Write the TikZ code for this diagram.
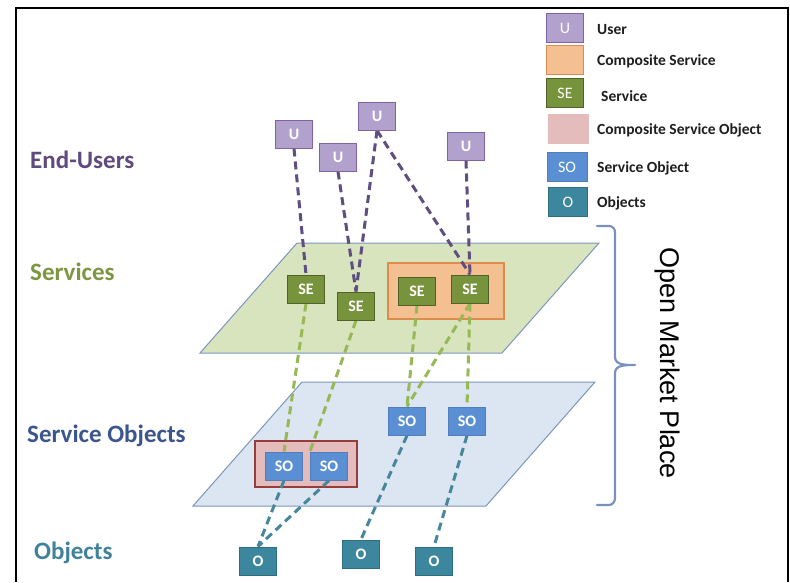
\documentclass[tikz,border=0pt]{standalone}
\usepackage{fontspec}
\setmainfont{Carlito}
\newfontfamily\arialf{Liberation Sans}
\pgfdeclarelayer{bg}
\pgfdeclarelayer{mid}
\pgfsetlayers{bg,mid,main}
\definecolor{ufill}{RGB}{178,161,204}
\definecolor{udraw}{RGB}{128,100,162}
\definecolor{sefill}{RGB}{119,147,60}
\definecolor{sedraw}{RGB}{79,98,40}
\definecolor{csfill}{RGB}{244,192,146}
\definecolor{csdraw}{RGB}{222,140,75}
\definecolor{csofill}{RGB}{229,188,188}
\definecolor{csodraw}{RGB}{150,60,60}
\definecolor{sofill}{RGB}{90,143,212}
\definecolor{sodraw}{RGB}{80,125,190}
\definecolor{ofill}{RGB}{60,135,158}
\definecolor{odraw}{RGB}{45,110,130}
\definecolor{greenplane}{RGB}{216,228,190}
\definecolor{blueplane}{RGB}{220,230,242}
\definecolor{planeedge}{RGB}{125,150,190}
\definecolor{udash}{RGB}{95,78,128}
\definecolor{sedash}{RGB}{150,185,85}
\definecolor{sodash}{RGB}{70,135,155}
\definecolor{lblu}{RGB}{95,75,125}
\definecolor{lblse}{RGB}{125,150,65}
\definecolor{lblso}{RGB}{60,85,140}
\definecolor{lblo}{RGB}{65,130,155}
\definecolor{bracec}{RGB}{120,145,190}
\definecolor{legtext}{RGB}{30,30,30}
\tikzset{
  box/.style={minimum width=37pt, minimum height=28pt, inner sep=0pt, line width=1pt,
    text=white, font=\bfseries\fontsize{16}{16}\selectfont},
  ubox/.style={box, fill=ufill, draw=udraw},
  sebox/.style={box, fill=sefill, draw=sedraw},
  sobox/.style={box, fill=sofill, draw=sodraw},
  obox/.style={box, fill=ofill, draw=odraw},
  legbox/.style={minimum width=37pt, minimum height=29pt, inner sep=0pt, line width=1pt,
    text=white, font=\fontsize{16}{16}\selectfont},
  legtxt/.style={anchor=west, inner sep=0pt, text=legtext, font=\bfseries\fontsize{15.5}{16}\selectfont},
  lvl/.style={anchor=west, inner sep=0pt, font=\bfseries\fontsize{25}{25}\selectfont},
  udashed/.style={draw=udash, line width=3pt, dash pattern=on 8pt off 5pt},
  sedashed/.style={draw=sedash, line width=3pt, dash pattern=on 8pt off 5pt},
  sodashed/.style={draw=sodash, line width=3pt, dash pattern=on 8pt off 5pt},
  plane/.style={draw=planeedge, line width=1pt},
}
\begin{document}
\begin{tikzpicture}[x=1pt,y=-1pt]
\useasboundingbox (0,0) rectangle (790,582);

% background, planes and composite boxes
\begin{pgfonlayer}{bg}
\fill[white] (0,0) rectangle (790,582);
\draw[plane, fill=greenplane] (297,243) -- (599,243) -- (502,353) -- (200,353) -- cycle;
\draw[plane, fill=blueplane] (302,382) -- (595,382) -- (486,506) -- (193,506) -- cycle;
\node[minimum width=116pt, minimum height=56pt, inner sep=0pt, fill=csfill, draw=csdraw, line width=1.2pt] (cs) at (446,291) {};
\node[minimum width=102pt, minimum height=46pt, inner sep=0pt, fill=csofill, draw=csodraw, line width=1.2pt] (cso) at (306,464) {};
\end{pgfonlayer}

% frame
\draw[line width=2pt] (16,582) -- (16,8) -- (788,8) -- (788,582);

% users
\node[ubox] (U1) at (294,134) {U};
\node[ubox] (U2) at (338,157) {U};
\node[ubox] (U3) at (377,116) {U};
\node[ubox] (U4) at (466,146) {U};
% services
\node[sebox] (SE1) at (306,289) {SE};
\node[sebox] (SE2) at (356,306) {SE};
\node[sebox] (SE3) at (417,291) {SE};
\node[sebox] (SE4) at (470,289) {SE};
% service objects
\node[sobox] (SO1) at (284,466) {SO};
\node[sobox] (SO2) at (329,466) {SO};
\node[sobox] (SO3) at (407,421) {SO};
\node[sobox] (SO4) at (467,421) {SO};
% objects
\node[obox] (O1) at (258,561) {O};
\node[obox] (O2) at (361,554) {O};
\node[obox] (O3) at (434,561) {O};

% connectors
\begin{pgfonlayer}{mid}
\draw[udashed] (U1.south) -- (SE1.north);
\draw[udashed] (U2.south) -- (SE2.north);
\draw[udashed] (U3.south) -- (SE2.north);
\draw[udashed] (U3.south) -- (SE4.north);
\draw[udashed] (U4.south) -- (SE4.north);
\draw[sedashed] (SE1.south) -- (SO1.north);
\draw[sedashed] (SE2.south) -- (SO2.north west);
\draw[sedashed] (SE3.south) -- (SO3.north);
\draw[sedashed] (SE4.south) -- (SO3.north);
\draw[sedashed] (SE4.south) -- (SO4.north);
\draw[sodashed] (SO1.south) -- (O1.north);
\draw[sodashed] (SO2.south) -- (O1.north);
\draw[sodashed] (SO3.south) -- (O2.north);
\draw[sodashed] (SO4.south) -- (O3.north);
\end{pgfonlayer}

% level labels
\node[lvl, text=lblu] (lu) at (30,160) {End-Users};
\node[lvl, text=lblse] (lse) at (30,272) {Services};
\node[lvl, text=lblso] (lso) at (27,436) {Service Objects};
\node[lvl, text=lblo] (lo) at (34,553) {Objects};

% bracket
\coordinate (bt) at (597,226);
\coordinate (bm) at (635,365);
\coordinate (bb) at (597,505);
\draw[bracec, line width=2.2pt, line cap=round, line join=round]
  (bt) -- (609,226) to[out=0,in=90] (615,232) -- (615,357)
  to[out=-90,in=180] (bm) (bm) to[out=180,in=90] (615,373) -- (615,498)
  to[out=-90,in=0] (609,505) -- (bb);
\node[rotate=-90, inner sep=0pt, font=\arialf\fontsize{27}{27}\selectfont] (omp) at (667,363) {Open Market Place};

% legend
\node[legbox, fill=ufill, draw=udraw] (LU) at (565,28) {U};
\node[legtxt] (LUt) at (597,30) {User};
\node[legbox, fill=csfill, draw=csdraw] (LCS) at (565,60) {};
\node[legtxt] (LCSt) at (597,61) {Composite Service};
\node[legbox, fill=sefill, draw=sedraw] (LSE) at (565,93) {SE};
\node[legtxt] (LSEt) at (601,96) {Service};
\node[legbox, fill=csofill, draw=csofill, minimum width=40pt] (LCSO) at (568,129) {};
\node[legtxt] (LCSOt) at (597,130) {Composite Service Object};
\node[legbox, fill=sofill, draw=sodraw, minimum width=40pt] (LSO) at (567,167) {SO};
\node[legtxt] (LSOt) at (597,168) {Service Object};
\node[legbox, fill=ofill, draw=odraw, minimum width=39pt] (LO) at (568,202) {O};
\node[legtxt] (LOt) at (597,203) {Objects};
\end{tikzpicture}
\end{document}
